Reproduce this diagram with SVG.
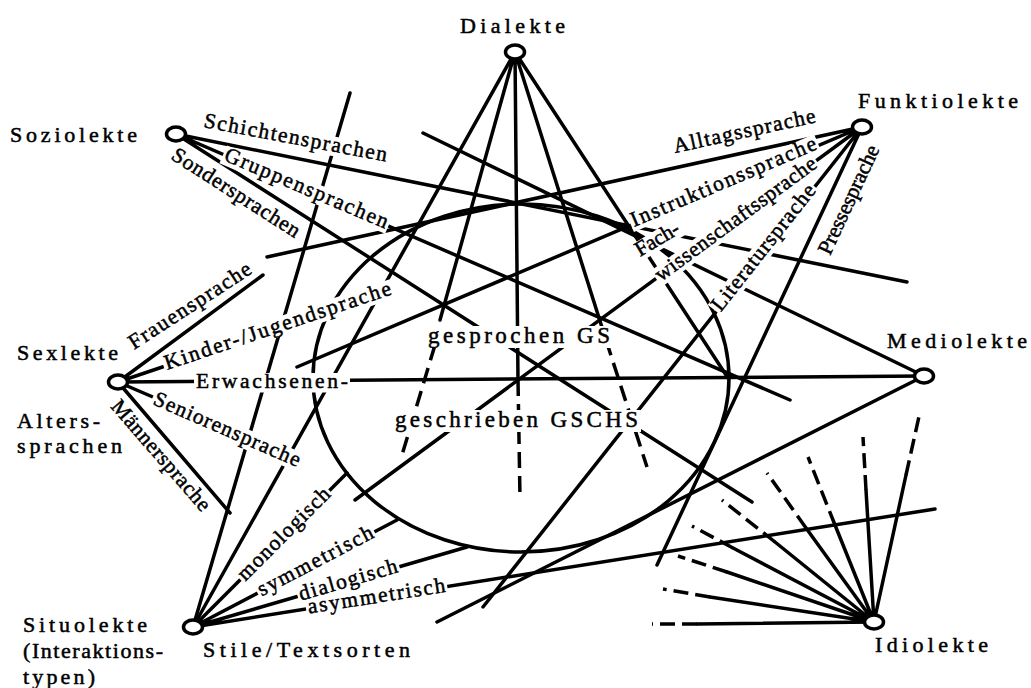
<svg xmlns="http://www.w3.org/2000/svg" width="1031" height="688" viewBox="0 0 1031 688">
<style>
.ln{stroke:#000;stroke-width:3.5;fill:none;stroke-linecap:round}
.ds{stroke:#000;stroke-width:3.5;fill:none;stroke-dasharray:16 8}
.di{stroke:#000;stroke-width:3.5;fill:none;stroke-dasharray:15 7}
.node{fill:#fff;stroke:#000;stroke-width:3.5}
.t{font-family:"Liberation Serif","Times New Roman",serif;font-size:21.5px;fill:#000;stroke:#000;stroke-width:0.5}
.nt{font-size:22px}
.ct{font-size:23px}
.box{fill:#fff}
</style>
<rect width="1031" height="688" fill="#fff"/>
<g id="connectors">
<ellipse class="ln" cx="521" cy="378" rx="208" ry="174"/>
<path class="ln" d="M515,52L193,627M515,52L440,320M515,52L518,380M515,52L606,340M515,52L728,378"/>
<path class="ds" d="M435,345L402,455M518,380L520,498M606,340L647,467"/>
<path class="ln" d="M176,134L907,282M176,134L790,400M176,134L752,502"/>
<path class="ln" d="M862,127L267,257M862,127L297,367M862,127L355,500M862,127L483,607M862,127L657,565"/>
<path class="ln" d="M118,382L263,275M118,382L390,290M118,382L924,376M118,382L297,459M118,382L230,513"/>
<path class="ln" d="M924,376L423,133M924,376L437,622"/>
<path class="ln" d="M193,627L350,93M193,627L347,473M193,627L397,520M193,627L467,547M193,627L935,509"/>
<path class="ln" d="M874,622L697,624M874,622L710,597M874,622L727,572M874,622L733,548M874,622L775,542M874,622L806,528M874,622L835,525M874,622L866,490M874,622L906,475"/>
<path class="di" d="M697,624L652,624M710,597L663,589M727,572L678,556M733,548L692,526M775,542L722,500M806,528L767,473M835,525L808,457M866,490L863,437M906,475L920,412"/>
</g>
<g id="label-boxes" class="box">
<rect transform="translate(203,127) rotate(10.7)" x="-2" y="-15" width="190" height="19.5"/>
<rect transform="translate(223,160) rotate(23)" x="-2" y="-15" width="180" height="19.5"/>
<rect transform="translate(170,158.5) rotate(32.6)" x="-2" y="-15" width="152" height="19.5"/>
<rect transform="translate(675,153) rotate(-12.3)" x="-2" y="-15" width="149" height="19.5"/>
<rect transform="translate(634,227) rotate(-23)" x="-2" y="-15" width="204" height="19.5"/>
<rect transform="translate(640,257) rotate(-31)" x="-2" y="-15" width="52" height="19.5"/>
<rect transform="translate(661,282) rotate(-36.3)" x="-2" y="-15" width="199" height="19.5"/>
<rect transform="translate(720.7,312.4) rotate(-51.7)" x="-2" y="-15" width="159" height="19.5"/>
<rect transform="translate(830,256) rotate(-65)" x="-2" y="-15" width="122" height="19.5"/>
<rect transform="translate(134,350) rotate(-33)" x="-2" y="-15" width="146" height="19.5"/>
<rect transform="translate(167,370) rotate(-18.6)" x="-2" y="-15" width="242" height="19.5"/>
<rect transform="translate(196,388)" x="-2" y="-15" width="156" height="19.5"/>
<rect transform="translate(152,404) rotate(23.5)" x="-2" y="-15" width="162" height="19.5"/>
<rect transform="translate(110,407) rotate(49)" x="-2" y="-15" width="144" height="19.5"/>
<rect transform="translate(245.3,581.7) rotate(-45)" x="-2" y="-15" width="126" height="19.5"/>
<rect transform="translate(261.7,596.6) rotate(-27.7)" x="-2" y="-15" width="132" height="19.5"/>
<rect transform="translate(301,600.7) rotate(-16.3)" x="-2" y="-15" width="106" height="19.5"/>
<rect transform="translate(308.8,613.6) rotate(-9)" x="-2" y="-15" width="143" height="19.5"/>
<rect x="425" y="326" width="188" height="22"/>
<rect x="392" y="410" width="249" height="22"/>
</g>
<g id="labels" class="t">
<text transform="translate(203,127) rotate(10.7)" textLength="186" lengthAdjust="spacing">Schichtensprachen</text>
<text transform="translate(223,160) rotate(23)" textLength="176" lengthAdjust="spacing">Gruppensprachen</text>
<text transform="translate(170,158.5) rotate(32.6)" textLength="148" lengthAdjust="spacing">Sondersprachen</text>
<text transform="translate(675,153) rotate(-12.3)" textLength="145" lengthAdjust="spacing">Alltagssprache</text>
<text transform="translate(634,227) rotate(-23)" textLength="200" lengthAdjust="spacing">Instruktionssprache</text>
<text transform="translate(640,257) rotate(-31)" textLength="48" lengthAdjust="spacing">Fach-</text>
<text transform="translate(661,282) rotate(-36.3)" textLength="195" lengthAdjust="spacing">wissenschaftssprache</text>
<text transform="translate(720.7,312.4) rotate(-51.7)" textLength="155" lengthAdjust="spacing">Literatursprache</text>
<text transform="translate(830,256) rotate(-65)" textLength="118" lengthAdjust="spacing">Pressesprache</text>
<text transform="translate(134,350) rotate(-33)" textLength="142" lengthAdjust="spacing">Frauensprache</text>
<text transform="translate(167,370) rotate(-18.6)" textLength="238" lengthAdjust="spacing">Kinder-/Jugendsprache</text>
<text transform="translate(196,388)" textLength="152" lengthAdjust="spacing">Erwachsenen-</text>
<text transform="translate(152,404) rotate(23.5)" textLength="158" lengthAdjust="spacing">Seniorensprache</text>
<text transform="translate(110,407) rotate(49)" textLength="140" lengthAdjust="spacing">Männersprache</text>
<text transform="translate(245.3,581.7) rotate(-45)" textLength="122" lengthAdjust="spacing">monologisch</text>
<text transform="translate(261.7,596.6) rotate(-27.7)" textLength="128" lengthAdjust="spacing">symmetrisch</text>
<text transform="translate(301,600.7) rotate(-16.3)" textLength="102" lengthAdjust="spacing">dialogisch</text>
<text transform="translate(308.8,613.6) rotate(-9)" textLength="139" lengthAdjust="spacing">asymmetrisch</text>
<text class="ct" x="428" y="343" textLength="182" lengthAdjust="spacing">gesprochen GS</text>
<text class="ct" x="395" y="427" textLength="243" lengthAdjust="spacing">geschrieben GSCHS</text>
</g>
<g id="node-dialekte">
<ellipse class="node" cx="515" cy="52" rx="9.5" ry="7"/>
<text class="t nt" x="460" y="33" textLength="105" lengthAdjust="spacing">Dialekte</text>
</g>
<g id="node-soziolekte">
<ellipse class="node" cx="176" cy="134" rx="9.5" ry="7"/>
<text class="t nt" x="10" y="142" textLength="127" lengthAdjust="spacing">Soziolekte</text>
</g>
<g id="node-funktiolekte">
<ellipse class="node" cx="862" cy="127" rx="9.5" ry="7"/>
<text class="t nt" x="858" y="108" textLength="160" lengthAdjust="spacing">Funktiolekte</text>
</g>
<g id="node-sexlekte">
<ellipse class="node" cx="118" cy="382" rx="9.5" ry="7"/>
<text class="t nt" x="17" y="360" textLength="101" lengthAdjust="spacing">Sexlekte</text>
<text class="t nt" x="17" y="428" textLength="83" lengthAdjust="spacing">Alters-</text>
<text class="t nt" x="17" y="453" textLength="105" lengthAdjust="spacing">sprachen</text>
</g>
<g id="node-mediolekte">
<ellipse class="node" cx="924" cy="376" rx="9.5" ry="7"/>
<text class="t nt" x="887" y="348" textLength="140" lengthAdjust="spacing">Mediolekte</text>
</g>
<g id="node-situolekte">
<ellipse class="node" cx="193" cy="627" rx="9.5" ry="7"/>
<text class="t nt" x="23" y="632" textLength="124" lengthAdjust="spacing">Situolekte</text>
<text class="t nt" x="23" y="658" textLength="140" lengthAdjust="spacing">(Interaktions-</text>
<text class="t nt" x="23" y="684" textLength="72" lengthAdjust="spacing">typen)</text>
<text class="t nt" x="203" y="657" textLength="207" lengthAdjust="spacing">Stile/Textsorten</text>
</g>
<g id="node-idiolekte">
<ellipse class="node" cx="874" cy="622" rx="9.5" ry="7"/>
<text class="t nt" x="875" y="652" textLength="113" lengthAdjust="spacing">Idiolekte</text>
</g>
</svg>
